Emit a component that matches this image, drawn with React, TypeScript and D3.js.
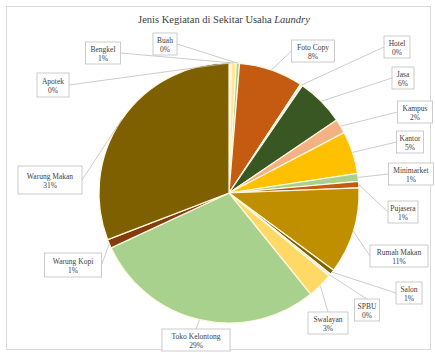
import React from "react";
import * as d3 from "d3";

const categories = [
  "Apotek", "Bengkel", "Buah", "Foto Copy", "Hotel", "Jasa", "Kampus", "Kantor",
  "Minimarket", "Pujasera", "Rumah Makan", "Salon", "SPBU", "Swalayan",
  "Toko Kelontong", "Warung Kopi", "Warung Makan",
];
const values = [0.3, 0.6, 0.4, 8, 0.3, 6, 1.8, 5.3, 1, 0.8, 10.8, 0.6, 0.3, 3.2, 29, 1.1, 31];
const colors = [
  "#FFF2CC", "#FFE699", "#A9D18E", "#C55A11", "#F2F2F2", "#385723", "#F4B183", "#FFC000",
  "#A9D18E", "#C55A11", "#BF8F00", "#7F6000", "#DEEBF7", "#FFD966",
  "#A9D18E", "#843C0C", "#7F6000",
];
// label box layout: [centerX, centerY, width, height]
const labelBoxes: [number, number, number, number][] = [
  [53, 85, 32, 24], [103, 53, 35, 22], [165, 44, 24, 22], [313, 51, 43, 22],
  [397, 47, 26, 22], [403, 78, 22, 22], [415, 112, 35, 22], [410, 142, 27, 22],
  [411, 174, 45, 22], [403, 212, 30, 22], [399, 256, 58, 22], [409, 293, 26, 22],
  [367, 310, 25, 22], [328, 323, 40, 22], [196, 340, 68, 22], [73, 265, 57, 24],
  [50, 180, 64, 28],
];

const W = 435, H = 353;
const cx = 229, cy = 193, R = 130;

export default function App() {
  const total = d3.sum(values);
  const data = categories.map((c, i) => ({ c, v: values[i], color: colors[i], box: labelBoxes[i] }));
  const pie = d3.pie<any>().value((d: any) => d.v).sort(null);
  const arcs = pie(data);
  const arc = d3.arc<any>().innerRadius(0).outerRadius(R);
  const font = "'Liberation Serif', 'Times New Roman', serif";

  return (
    <svg width={W} height={H} style={{ position: "absolute", left: 0, top: 0, background: "#fff" }}>
      <rect x={6.5} y={6.5} width={424} height={343} fill="#fff" stroke="#D9D9D9" />
      <text x={224} y={23} textAnchor="middle" fontFamily={font} fontSize={10.5} fill="#404040">
        Jenis Kegiatan di Sekitar Usaha <tspan fontStyle="italic">Laundry</tspan>
      </text>
      <g transform={`translate(${cx},${cy})`}>
        {arcs.map((a, i) => (
          <path key={i} d={arc(a) as string} fill={a.data.color} stroke="#FFF8E1" strokeWidth={1.2} />
        ))}
      </g>
      {arcs.map((a, i) => {
        const mid = (a.startAngle + a.endAngle) / 2;
        const px = cx + Math.sin(mid) * R;
        const py = cy - Math.cos(mid) * R;
        const [bx, by, bw, bh] = a.data.box;
        let ax: number, ay: number;
        if (by > cy + R * 0.8) {
          ax = bx; ay = by - bh / 2;
        } else if (bx < cx) {
          ax = bx + bw / 2; ay = by;
        } else {
          ax = bx - bw / 2; ay = by;
        }
        const pct = Math.round((a.data.v / total) * 100);
        return (
          <g key={"l" + i}>
            <line x1={px} y1={py} x2={ax} y2={ay} stroke="#BFBFBF" strokeWidth={0.8} />
            <rect x={bx - bw / 2} y={by - bh / 2} width={bw} height={bh} fill="#fff" stroke="#BFBFBF" strokeWidth={0.8} />
            <text x={bx} y={by - 1.5} textAnchor="middle" fontFamily={font} fontSize={7.5} fill="#404040">
              {a.data.c}
            </text>
            <text x={bx} y={by + 7.5} textAnchor="middle" fontFamily={font} fontSize={7.5} fill="#404040">
              {pct}%
            </text>
          </g>
        );
      })}
    </svg>
  );
}
